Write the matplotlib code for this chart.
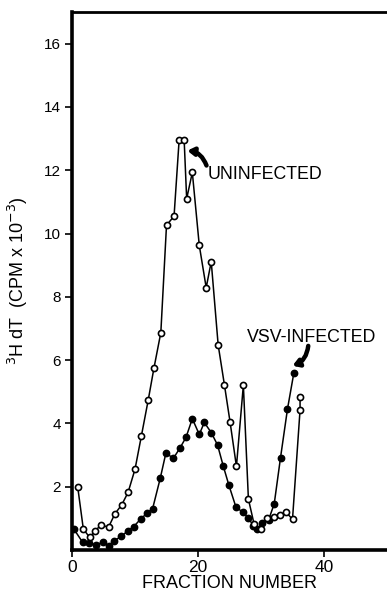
import matplotlib
matplotlib.use("Agg")
import matplotlib.pyplot as plt

# ---- data ----
uninf_x = [0.9, 1.8, 2.8, 3.7, 4.6, 5.8, 6.8, 7.9, 8.9, 10.0, 11.0, 12.1, 13.0, 14.1,
           15.0, 16.2, 17.0, 17.8, 18.2, 19.1, 20.2, 21.3, 22.1, 23.2, 24.2, 25.1,
           26.1, 27.2, 28.0, 28.9, 30.0, 30.9, 32.0, 33.0, 34.0, 35.0, 36.2, 36.2]
uninf_y = [2.0, 0.66, 0.40, 0.61, 0.79, 0.72, 1.14, 1.43, 1.82, 2.55, 3.59, 4.74, 5.74, 6.87,
           10.26, 10.55, 12.94, 12.97, 11.10, 11.93, 9.63, 8.29, 9.11, 6.48, 5.21, 4.03,
           2.64, 5.21, 1.61, 0.82, 0.67, 1.02, 1.05, 1.10, 1.19, 0.97, 4.43, 4.84]

vsv_x = [0.3, 1.7, 2.75, 3.8, 4.9, 5.8, 6.7, 7.8, 8.9, 9.8, 10.9, 11.9, 12.8, 14.0,
         14.9, 16.1, 17.1, 18.1, 19.1, 20.2, 21.0, 22.1, 23.1, 24.0, 24.9, 26.0,
         27.1, 28.0, 28.8, 29.3, 30.2, 31.2, 32.1, 33.1, 34.2, 35.2]
vsv_y = [0.66, 0.24, 0.21, 0.17, 0.24, 0.14, 0.29, 0.43, 0.61, 0.74, 0.98, 1.16, 1.31, 2.26,
         3.06, 2.90, 3.21, 3.56, 4.15, 3.65, 4.03, 3.71, 3.32, 2.66, 2.05, 1.37,
         1.19, 1.02, 0.75, 0.65, 0.85, 0.95, 1.46, 2.92, 4.45, 5.58]

x_ticks = [0, 20, 40]
y_ticks = [2, 4, 6, 8, 10, 12, 14, 16]

plt.rcParams['font.family'] = ['Liberation Sans', 'DejaVu Sans']

fig = plt.figure(figsize=(3.87, 5.96), dpi=100)
ax = fig.add_axes([72 / 387, 1 - 550 / 596, (387 - 72) / 387, (550 - 12) / 596])

ax.plot(vsv_x, vsv_y, color='black', lw=1.1, marker='o', ms=4.6,
        mfc='black', mec='black', zorder=2)
ax.plot(uninf_x, uninf_y, color='black', lw=1.1, marker='o', ms=4.4,
        mfc='white', mec='black', mew=1.2, zorder=3)

ax.set_xlim(0, 50)
ax.set_ylim(0, 17)
ax.set_xticks(x_ticks)
ax.set_yticks(y_ticks)
ax.tick_params(axis='both', direction='out', length=5, width=1.2, labelsize=11, pad=3)
ax.tick_params(axis='x', labelsize=12.5, pad=2)

ax.spines['right'].set_visible(False)
ax.spines['left'].set_linewidth(2.6)
ax.spines['bottom'].set_linewidth(2.6)
ax.spines['top'].set_linewidth(2.0)

ax.set_xlabel('FRACTION NUMBER', fontsize=13, labelpad=0)
ax.set_ylabel(r'$^{3}$H dT  (CPM x 10$^{-3}$)', fontsize=13, labelpad=10)

ax.annotate('', xy=(18.3, 12.62), xytext=(21.35, 12.15),
            arrowprops=dict(arrowstyle='-|>,head_length=0.35,head_width=0.22',
                            lw=3.2, color='black', connectionstyle='arc3,rad=0.3',
                            shrinkA=0, shrinkB=0))
ax.text(21.6, 11.88, 'UNINFECTED', fontsize=12.8, va='center', ha='left')

ax.annotate('', xy=(35.0, 5.82), xytext=(37.5, 6.45),
            arrowprops=dict(arrowstyle='-|>,head_length=0.35,head_width=0.22',
                            lw=3.2, color='black', connectionstyle='arc3,rad=-0.3',
                            shrinkA=0, shrinkB=0))
ax.text(27.8, 6.71, 'VSV-INFECTED', fontsize=12.8, va='center', ha='left')

fig.savefig('out.png', dpi=100)
